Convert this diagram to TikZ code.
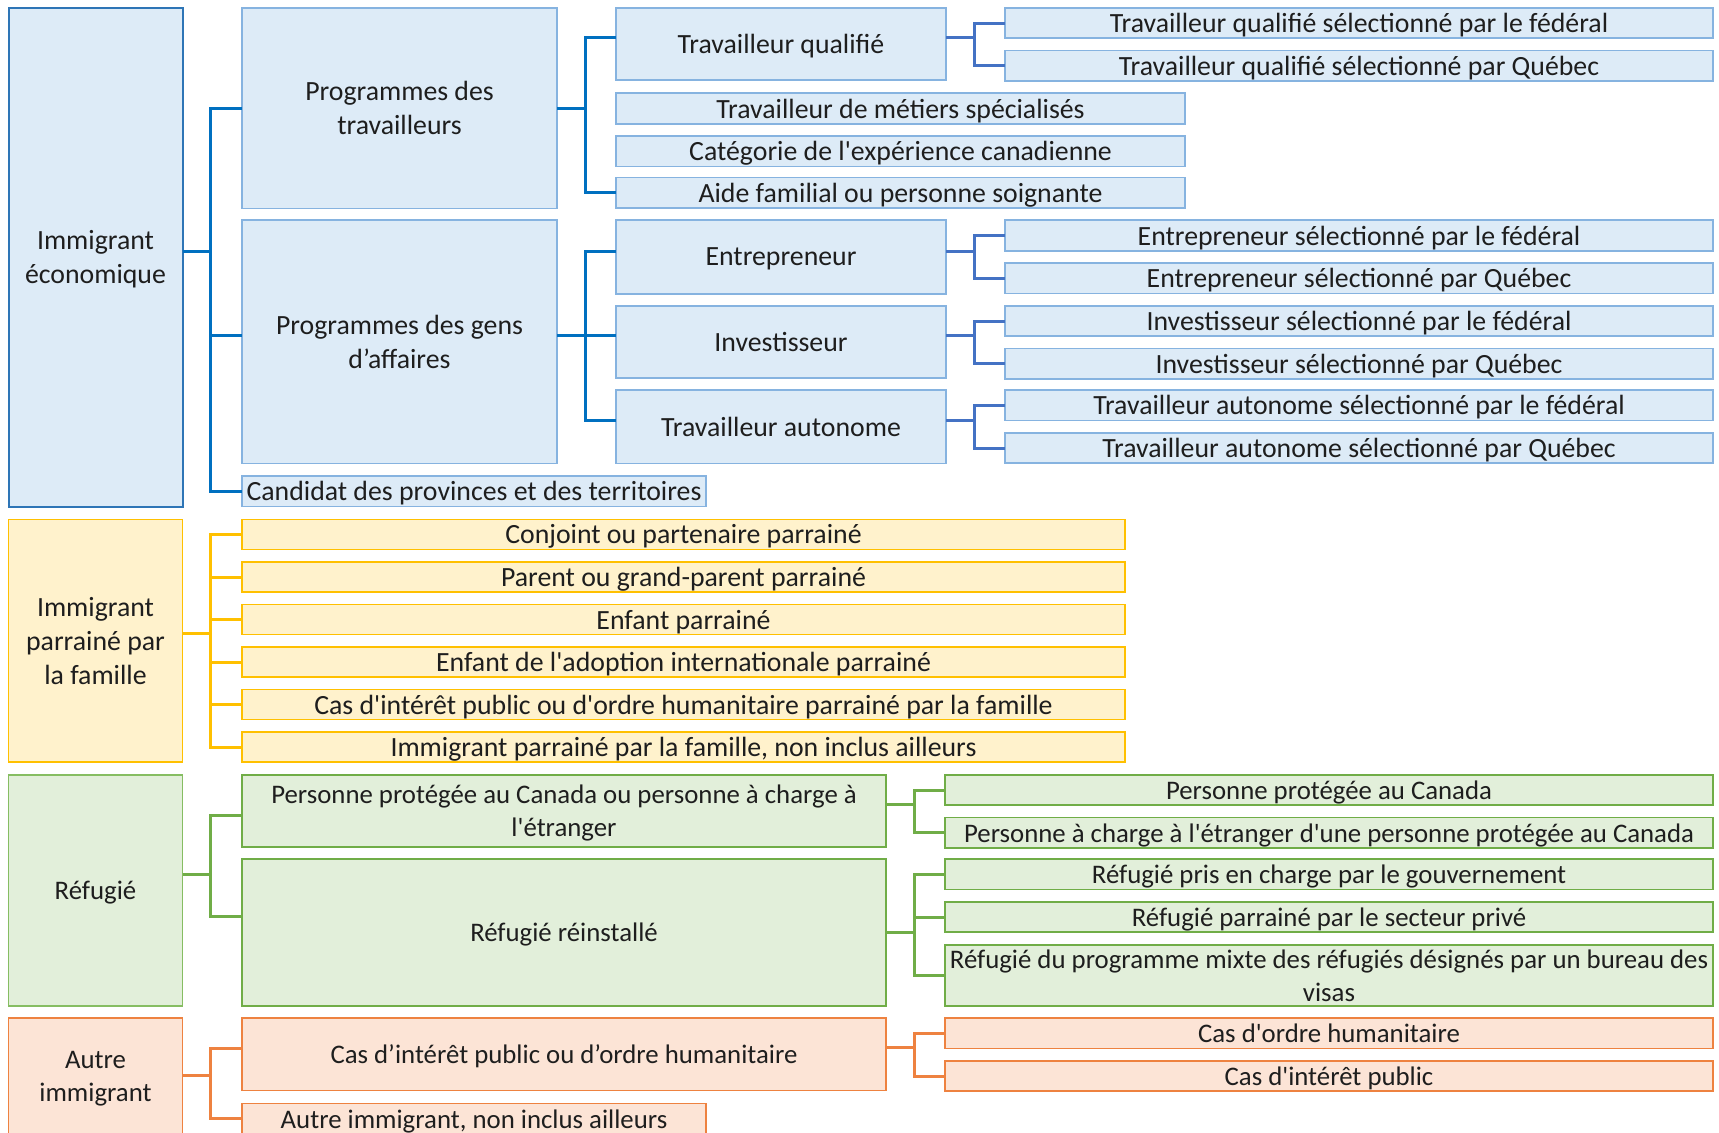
\documentclass[tikz,border=0pt]{standalone}
\usepackage{fontspec}
\setmainfont{Carlito}[Ligatures=TeXOff]
\definecolor{txt}{HTML}{1E1E1E}
\definecolor{bfill}{HTML}{DDEBF7}
\definecolor{bline}{HTML}{86B3E0}
\definecolor{bleft}{HTML}{2E75B6}
\definecolor{bcon}{HTML}{0070C0}
\definecolor{bcon2}{HTML}{4472C4}
\definecolor{yfill}{HTML}{FFF2CC}
\definecolor{yline}{HTML}{FFC000}
\definecolor{gfill}{HTML}{E2EFDA}
\definecolor{gline}{HTML}{70AD47}
\definecolor{gleft}{HTML}{86BD62}
\definecolor{ofill}{HTML}{FCE4D6}
\definecolor{oline}{HTML}{EE8240}
\tikzset{
  basebox/.style={draw, rectangle, inner sep=0pt, outer sep=0pt, align=center, text=txt,
    text depth=0pt, font=\fontsize{13.9}{17}\selectfont},
  smallfont/.style={font=\fontsize{13.4}{16.6}\selectfont},
  blueL/.style={basebox, fill=bfill, draw=bleft, line width=1pt},
  blueB/.style={basebox, fill=bfill, draw=bline, line width=0.9pt},
  yelB/.style={basebox, fill=yfill, draw=yline, line width=0.9pt},
  grnL/.style={basebox, smallfont, fill=gfill, draw=gleft, line width=0.9pt},
  grnB/.style={basebox, smallfont, fill=gfill, draw=gline, line width=0.9pt},
  orgB/.style={basebox, smallfont, fill=ofill, draw=oline, line width=0.9pt},
  conn/.style={line width=1.5pt, line join=miter},
  conB/.style={conn, draw=bcon},
  conB2/.style={conn, draw=bcon2},
  conY/.style={conn, draw=yline},
  conG/.style={conn, draw=gline},
  conO/.style={conn, draw=oline},
}
% name, style, x1, y1, x2, y2, text
\newcommand\mybox[7]{\node[#2, anchor=north west, minimum width={(#5-#3)*0.5pt},
  minimum height={(#6-#4)*0.5pt}] (#1) at (#3,#4) {#7};}
% style, parent, exit y, bus x, child, entry y
\newcommand\mylink[6]{\draw[#1] (#2.east |- 0,#3) -- (#4,#3) |- (#5.west |- 0,#6);}
\begin{document}
\begin{tikzpicture}[x=0.5pt, y=-0.5pt]
\useasboundingbox (0,0) rectangle (1719,1132);
\clip (0,0) rectangle (1719,1132);
\fill[white] (0,0) rectangle (1719,1132);

% ---------- column 1 ----------
\mybox{E1}{blueL}{8.5}{7.7}{182.5}{506.5}{Immigrant\\économique}
\mybox{F1}{yelB}{8.5}{519.4}{182.5}{762}{Immigrant\\parrainé par\\la famille}
\mybox{R1}{grnL}{8.5}{774.7}{182.5}{1006}{Réfugié}
\mybox{A1}{orgB}{8.5}{1018}{182.5}{1134}{Autre\\immigrant}

% ---------- economic ----------
\mybox{P1}{blueB}{242}{7.7}{557}{208.5}{Programmes des\\travailleurs}
\mybox{P2}{blueB}{242}{220.3}{557}{463.5}{Programmes des gens\\d’affaires}
\mybox{P3}{blueB}{242}{475.6}{706}{506.5}{Candidat des provinces et des territoires}

\mybox{Q1}{blueB}{616}{7.7}{946}{80}{Travailleur qualifié}
\mybox{Q2}{blueB}{616}{93.1}{1185}{123.6}{Travailleur de métiers spécialisés}
\mybox{Q3}{blueB}{616}{135.9}{1185}{166.4}{Catégorie de l'expérience canadienne}
\mybox{Q4}{blueB}{616}{177.5}{1185}{208.2}{Aide familial ou personne soignante}
\mybox{Q5}{blueB}{616}{220.3}{946}{293.7}{Entrepreneur}
\mybox{Q6}{blueB}{616}{305.7}{946}{378}{Investisseur}
\mybox{Q7}{blueB}{616}{390}{946}{463.5}{Travailleur autonome}

\mybox{T1}{blueB}{1005}{7.7}{1713}{38.2}{Travailleur qualifié sélectionné par le fédéral}
\mybox{T2}{blueB}{1005}{50.4}{1713}{80.9}{Travailleur qualifié sélectionné par Québec}
\mybox{T3}{blueB}{1005}{220.3}{1713}{250.8}{Entrepreneur sélectionné par le fédéral}
\mybox{T4}{blueB}{1005}{263}{1713}{293.5}{Entrepreneur sélectionné par Québec}
\mybox{T5}{blueB}{1005}{305.7}{1713}{336.2}{Investisseur sélectionné par le fédéral}
\mybox{T6}{blueB}{1005}{348.5}{1713}{379}{Investisseur sélectionné par Québec}
\mybox{T7}{blueB}{1005}{390}{1713}{420.5}{Travailleur autonome sélectionné par le fédéral}
\mybox{T8}{blueB}{1005}{432.8}{1713}{463.3}{Travailleur autonome sélectionné par Québec}

% ---------- family ----------
\mybox{Y1}{yelB}{242}{519.4}{1125}{549.4}{Conjoint ou partenaire parrainé}
\mybox{Y2}{yelB}{242}{562}{1125}{592}{Parent ou grand-parent parrainé}
\mybox{Y3}{yelB}{242}{604.5}{1125}{634.5}{Enfant parrainé}
\mybox{Y4}{yelB}{242}{647}{1125}{677}{Enfant de l'adoption internationale parrainé}
\mybox{Y5}{yelB}{242}{689.5}{1125}{719.5}{Cas d'intérêt public ou d'ordre humanitaire parrainé par la famille}
\mybox{Y6}{yelB}{242}{732}{1125}{762}{Immigrant parrainé par la famille, non inclus ailleurs}

% ---------- refugees ----------
\mybox{G1}{grnB}{242}{774.7}{886}{847}{Personne protégée au Canada ou personne à charge à\\l'étranger}
\mybox{G2}{grnB}{242}{859}{886}{1006}{Réfugié réinstallé}
\mybox{H1}{grnB}{945}{774.7}{1713}{805.2}{Personne protégée au Canada}
\mybox{H2}{grnB}{945}{817.5}{1713}{848}{Personne à charge à l'étranger d'une personne protégée au Canada}
\mybox{H3}{grnB}{945}{859}{1713}{889.5}{Réfugié pris en charge par le gouvernement}
\mybox{H4}{grnB}{945}{901.8}{1713}{932.3}{Réfugié parrainé par le secteur privé}
\mybox{H5}{grnB}{945}{944.6}{1713}{1006}{Réfugié du programme mixte des réfugiés désignés par un bureau des\\visas}

% ---------- other ----------
\mybox{O1}{orgB}{242}{1018}{886}{1090.5}{Cas d’intérêt public ou d’ordre humanitaire}
\mybox{O2}{orgB}{242}{1103.5}{706}{1134}{Autre immigrant, non inclus ailleurs}
\mybox{O3}{orgB}{945}{1018}{1713}{1048.5}{Cas d'ordre humanitaire}
\mybox{O4}{orgB}{945}{1060.7}{1713}{1091.2}{Cas d'intérêt public}

% ---------- connectors ----------
\mylink{conB}{E1}{251}{210}{P1}{108}
\mylink{conB}{E1}{251}{210}{P2}{335.3}
\mylink{conB}{E1}{251}{210}{P3}{491}
\mylink{conB}{P1}{108}{585.5}{Q1}{37.3}
\mylink{conB}{P1}{108}{585.5}{Q4}{192.9}
\mylink{conB}{P2}{335.3}{585.5}{Q5}{251}
\mylink{conB}{P2}{335.3}{585.5}{Q6}{335.3}
\mylink{conB}{P2}{335.3}{585.5}{Q7}{420.8}
\mylink{conB2}{Q1}{37.3}{974}{T1}{23}
\mylink{conB2}{Q1}{37.3}{974}{T2}{65.6}
\mylink{conB2}{Q5}{251}{974}{T3}{235.6}
\mylink{conB2}{Q5}{251}{974}{T4}{278.3}
\mylink{conB2}{Q6}{335.3}{974}{T5}{321}
\mylink{conB2}{Q6}{335.3}{974}{T6}{363.8}
\mylink{conB2}{Q7}{420.8}{974}{T7}{405.3}
\mylink{conB2}{Q7}{420.8}{974}{T8}{448}

\mylink{conY}{F1}{633.3}{210}{Y1}{534.4}
\mylink{conY}{F1}{633.3}{210}{Y2}{577}
\mylink{conY}{F1}{633.3}{210}{Y3}{619.5}
\mylink{conY}{F1}{633.3}{210}{Y4}{662}
\mylink{conY}{F1}{633.3}{210}{Y5}{704.5}
\mylink{conY}{F1}{633.3}{210}{Y6}{747}

\mylink{conG}{R1}{874}{210}{G1}{815.3}
\mylink{conG}{R1}{874}{210}{G2}{916.5}
\mylink{conG}{G1}{804}{914.8}{H1}{790}
\mylink{conG}{G1}{804}{914.8}{H2}{832.7}
\mylink{conG}{G2}{932.5}{914.8}{H3}{874.3}
\mylink{conG}{G2}{932.5}{914.8}{H4}{917}
\mylink{conG}{G2}{932.5}{914.8}{H5}{975.3}

\mylink{conO}{A1}{1075}{210}{O1}{1048}
\mylink{conO}{A1}{1075}{210}{O2}{1118.7}
\mylink{conO}{O1}{1047.5}{914.8}{O3}{1033.3}
\mylink{conO}{O1}{1047.5}{914.8}{O4}{1076}
\end{tikzpicture}
\end{document}
